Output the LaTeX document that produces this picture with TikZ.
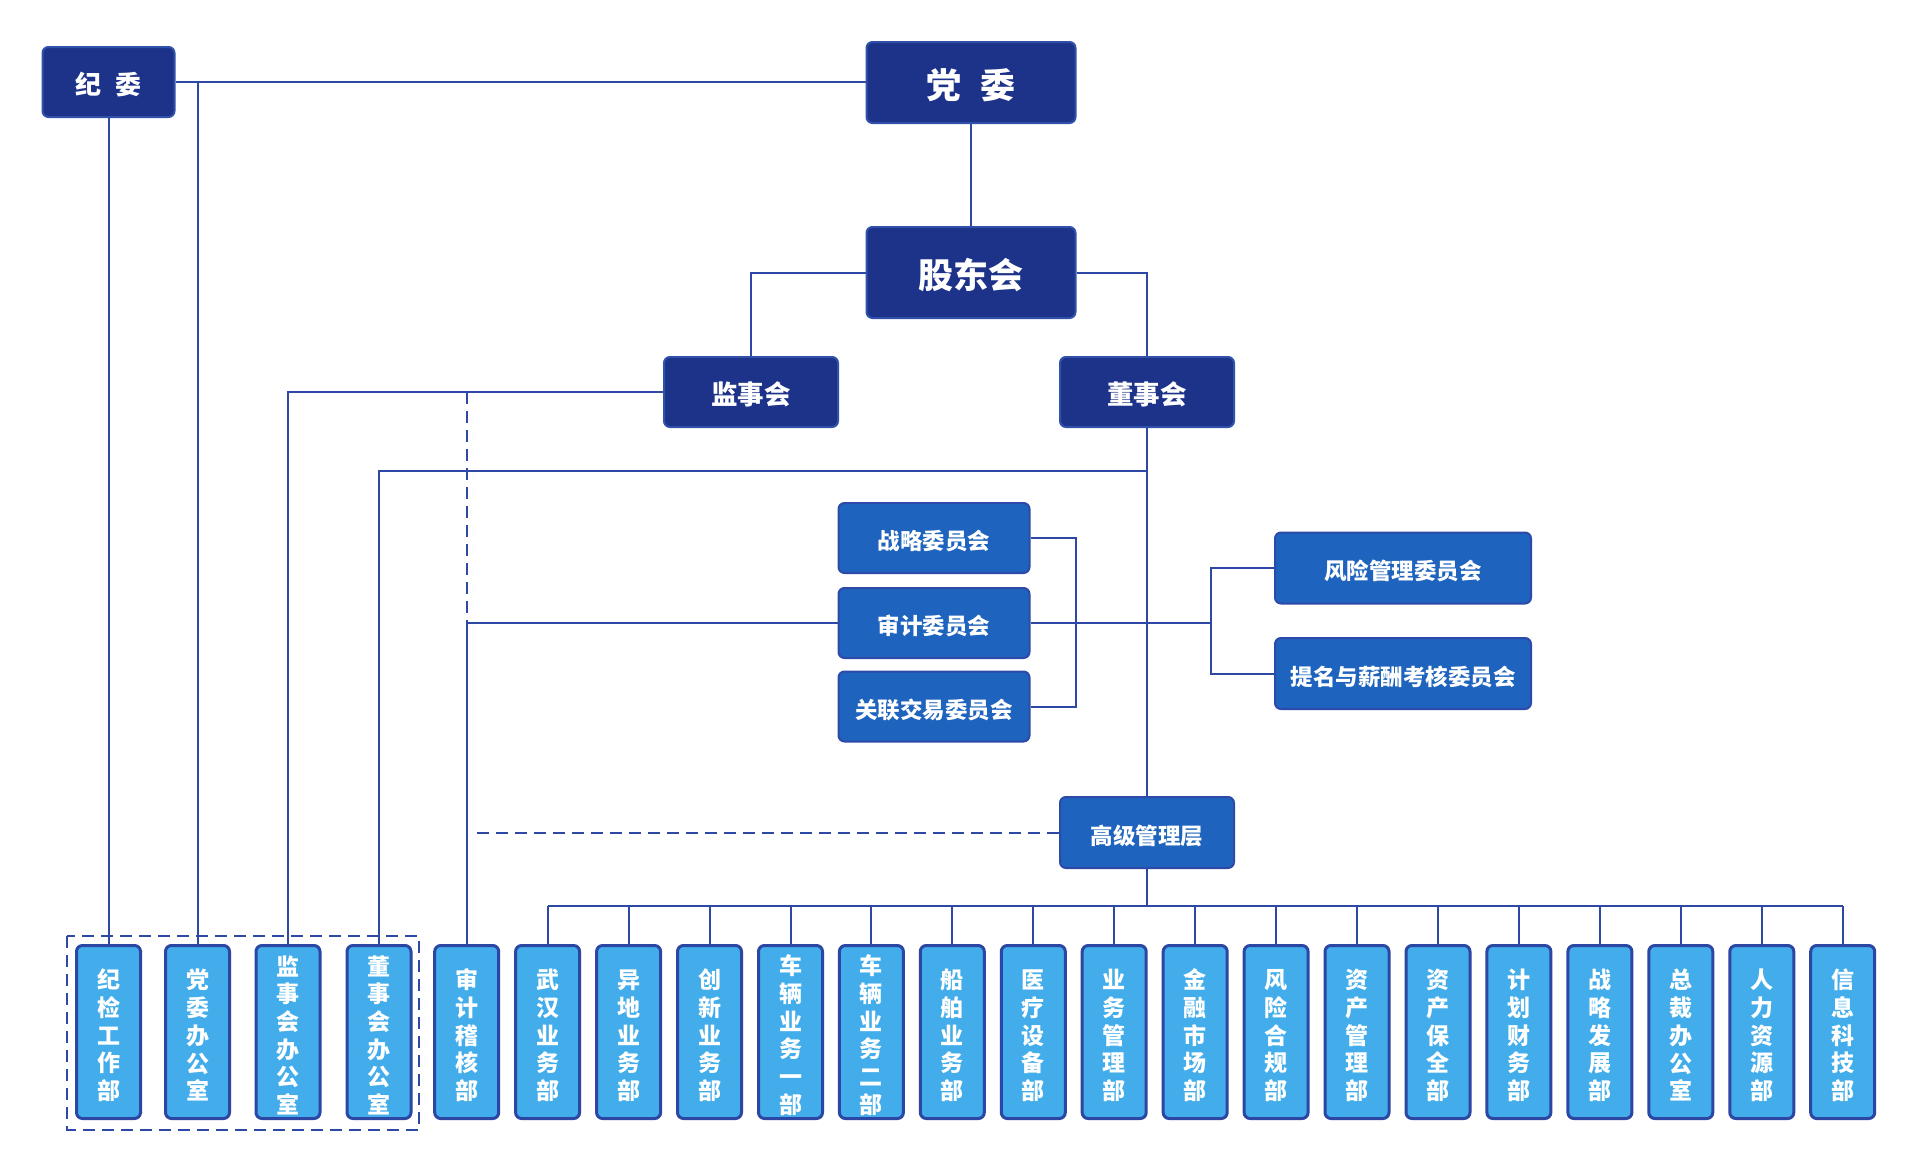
\documentclass[tikz,border=0pt]{standalone}
\usepackage{fontspec}
\newfontfamily\cjk{Noto Sans CJK SC}
\usetikzlibrary{calc}
\definecolor{darkfill}{HTML}{1D3389}
\definecolor{darkedge}{HTML}{3050AA}
\definecolor{midfill}{HTML}{1E63BD}
\definecolor{midedge}{HTML}{2E4AA8}
\definecolor{lightfill}{HTML}{42ADEA}
\definecolor{lightedge}{HTML}{2C46A4}
\definecolor{linecol}{HTML}{2E48A6}
\newcommand\dpush{\rule{0pt}{\dimexpr0.88em+6pt\relax}}
\tikzset{
  lowtext/.style={execute at begin node={\rule{0pt}{\dimexpr0.88em+#1\relax}}},
  darkbox/.style={draw=darkedge, fill=darkfill, line width=2pt, rounded corners=6pt, text=white, inner sep=0pt, lowtext=5pt},
  midbox/.style={draw=midedge, fill=midfill, line width=2pt, rounded corners=6pt, text=white, inner sep=0pt,
    font=\cjk\bfseries\fontsize{22.5}{27}\selectfont, lowtext=6pt},
  deptbox/.style={draw=lightedge, fill=lightfill, line width=3pt, rounded corners=6pt, text=white, inner sep=0pt,
    minimum width=64pt, minimum height=173pt, align=center, font=\cjk\bfseries\fontsize{23}{27.7}\selectfont},
  conn/.style={draw=linecol, line width=2pt},
  dconn/.style={draw=linecol, line width=2pt, dash pattern=on 12pt off 7pt},
}
\begin{document}
\begin{tikzpicture}[x=1pt,y=-1pt]
\useasboundingbox (0,0) rectangle (1920,1171);
\fill[white] (0,0) rectangle (1920,1171);

% top level
\node[darkbox, minimum width=132pt, minimum height=70pt, font=\cjk\bfseries\fontsize{26}{30}\selectfont] (jw) at (108.5,82) {纪\hspace{15pt}委};
\node[darkbox, minimum width=209pt, minimum height=81pt, font=\cjk\bfseries\fontsize{35}{40}\selectfont] (dw) at (971,82.5) {党\hspace{20pt}委};
\node[darkbox, minimum width=209pt, minimum height=91pt, font=\cjk\bfseries\fontsize{35}{40}\selectfont] (gd) at (971,272.5) {股东会};
\node[darkbox, minimum width=174pt, minimum height=70pt, font=\cjk\bfseries\fontsize{26.5}{30}\selectfont] (js) at (751,392) {监事会};
\node[darkbox, minimum width=174pt, minimum height=70pt, font=\cjk\bfseries\fontsize{26.5}{30}\selectfont] (ds) at (1147,392) {董事会};

% committees
\node[midbox, minimum width=191pt, minimum height=70pt] (zl) at (934,538) {战略委员会};
\node[midbox, minimum width=191pt, minimum height=70pt] (sj) at (934,623) {审计委员会};
\node[midbox, minimum width=191pt, minimum height=70pt] (gl) at (934,706.5) {关联交易委员会};
\node[midbox, minimum width=256pt, minimum height=71pt] (fx) at (1403,568) {风险管理委员会};
\node[midbox, minimum width=256pt, minimum height=71pt] (tm) at (1403,673.5) {提名与薪酬考核委员会};
\node[midbox, minimum width=174pt, minimum height=71pt] (gj) at (1147,832.5) {高级管理层};

% departments
\node[deptbox] (d1) at (108.5,1032) {\dpush 纪\\检\\工\\作\\部};
\node[deptbox] (d2) at (197.5,1032) {\dpush 党\\委\\办\\公\\室};
\node[deptbox] (d3) at (288,1032) {\dpush 监\\事\\会\\办\\公\\室};
\node[deptbox] (d4) at (379,1032) {\dpush 董\\事\\会\\办\\公\\室};
\node[deptbox] (d5) at (466.7,1032) {\dpush 审\\计\\稽\\核\\部};
\node[deptbox] (d6) at (547.6,1032) {\dpush 武\\汉\\业\\务\\部};
\node[deptbox] (d7) at (628.6,1032) {\dpush 异\\地\\业\\务\\部};
\node[deptbox] (d8) at (709.5,1032) {\dpush 创\\新\\业\\务\\部};
\node[deptbox] (d9) at (790.5,1032) {\dpush 车\\辆\\业\\务\\一\\部};
\node[deptbox] (d10) at (871.4,1032) {\dpush 车\\辆\\业\\务\\二\\部};
\node[deptbox] (d11) at (952.3,1032) {\dpush 船\\舶\\业\\务\\部};
\node[deptbox] (d12) at (1033.3,1032) {\dpush 医\\疗\\设\\备\\部};
\node[deptbox] (d13) at (1114.2,1032) {\dpush 业\\务\\管\\理\\部};
\node[deptbox] (d14) at (1195.2,1032) {\dpush 金\\融\\市\\场\\部};
\node[deptbox] (d15) at (1276.1,1032) {\dpush 风\\险\\合\\规\\部};
\node[deptbox] (d16) at (1357,1032) {\dpush 资\\产\\管\\理\\部};
\node[deptbox] (d17) at (1438,1032) {\dpush 资\\产\\保\\全\\部};
\node[deptbox] (d18) at (1518.9,1032) {\dpush 计\\划\\财\\务\\部};
\node[deptbox] (d19) at (1599.9,1032) {\dpush 战\\略\\发\\展\\部};
\node[deptbox] (d20) at (1680.8,1032) {\dpush 总\\裁\\办\\公\\室};
\node[deptbox] (d21) at (1761.8,1032) {\dpush 人\\力\\资\\源\\部};
\node[deptbox] (d22) at (1842.7,1032) {\dpush 信\\息\\科\\技\\部};

% dashed frame
\draw[dconn] (67,936) rectangle (419,1129.5);

% helper coordinates
\coordinate (bj) at (1147,471);
\coordinate (br) at (1211,623);
\coordinate (bus) at (1147,906);

% connectors
\draw[conn] (jw.east) -- (jw.east -| dw.west);
\draw[conn] (jw.south) -- (d1.north);
\draw[conn] (d2.north |- jw.east) -- (d2.north);
\draw[conn] (dw.south) -- (gd.north);
\draw[conn] (gd.west) -| (js.north);
\draw[conn] (gd.east) -| (ds.north);
\draw[conn] (js.west) -| (d3.north);
\draw[dconn] (d5.north |- js.west) -- (d5.north |- sj.west);
\draw[conn] (sj.west) -| (d5.north);
\draw[conn] (ds.south) -- (gj.north);
\draw[conn] (bj) -| (d4.north);
\draw[conn] (zl.east) -- ++(45.5,0) |- (gl.east);
\draw[conn] (sj.east) -- (br);
\draw[conn] (fx.west) -| (br |- tm.west) -- (tm.west);
\draw[dconn] (gj.west) -- ($(d5.north |- gj.west)+(4,0)$);
\draw[conn] (gj.south) -- (bus);
\draw[conn, line width=2.5pt] (d6.north |- bus) -- (d22.north |- bus);
\foreach \i in {6,...,22} {
  \draw[conn] (d\i.north |- bus) -- (d\i.north);
}
\end{tikzpicture}
\end{document}
